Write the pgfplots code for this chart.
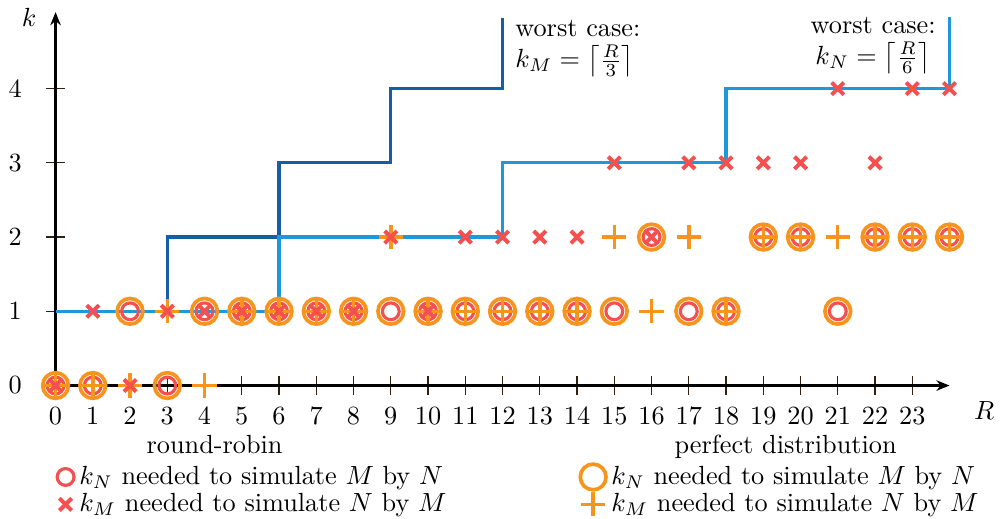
\documentclass[border=0pt]{standalone}
\usepackage{pgfplots}
\usepackage{pgfplotstable}
\pgfplotsset{compat=1.18}
\usetikzlibrary{arrows.meta}
\definecolor{rrred}{RGB}{245,80,80}
\definecolor{pdorange}{RGB}{247,148,30}
\definecolor{darkblue}{RGB}{22,94,164}
\definecolor{lightblue}{RGB}{30,152,216}
\pgfplotstableread{
R kNrr kMrr kNpd kMpd
0 0 0 0 0
1 0 1 0 0
2 1 0 1 0
3 0 1 0 1
4 1 1 1 0
5 1 1 1 1
6 1 1 1 1
7 1 1 1 1
8 1 1 1 1
9 1 2 1 2
10 1 1 1 1
11 1 2 1 1
12 1 2 1 1
13 1 2 1 1
14 1 2 1 1
15 1 3 1 2
16 2 2 2 1
17 1 3 1 2
18 1 3 1 1
19 2 3 2 2
20 2 3 2 2
21 1 4 1 2
22 2 3 2 2
23 2 4 2 2
24 2 4 2 2
}\datatable
\pgfplotsset{
  rrN/.style={draw=rrred, mark=o, mark size=3.2pt, line width=1.2pt},
  rrM/.style={draw=rrred, mark=x, mark size=3.3pt, line width=1.5pt},
  pdN/.style={draw=pdorange, mark=o, mark size=4.9pt, line width=1.4pt},
  pdM/.style={draw=pdorange, mark=+, mark size=4.6pt, line width=1.3pt},
}
\begin{document}
\begin{tikzpicture}
\begin{axis}[
  x=14.19pt, y=28.28pt,
  xmin=0, xmax=24, ymin=0, ymax=5.03,
  axis lines*=left,
  axis line style={line width=1pt, -{Stealth[length=5pt,width=4pt]}},
  xtick={0,...,23}, ytick={0,...,4},
  tick align=center, major tick length=7.2pt,
  tick style={line width=0.45pt, color=black!75!brown},
  xticklabel style={anchor=base, yshift=-11.3pt},
  yticklabel style={anchor=east, xshift=-5.7pt},
  clip=false,
  legend image code/.code={\draw[#1] plot coordinates {(0cm,0cm)};},
  legend columns=2,
  legend cell align=left,
  legend style={at={(axis cs:0.03,-1.04)}, anchor=north west, draw=none, fill=none,
    inner sep=0pt, row sep=0pt,
    nodes={inner sep=1pt},
    /tikz/every odd column/.append style={column sep=1pt},
    /tikz/every even column/.append style={column sep=50pt}},
]
\addlegendimage{rrN}
\addlegendentry{$k_N$ needed to simulate $M$ by $N$}
\addlegendimage{pdN}
\addlegendentry{$k_N$ needed to simulate $M$ by $N$}
\addlegendimage{rrM}
\addlegendentry{$k_M$ needed to simulate $N$ by $M$}
\addlegendimage{pdM}
\addlegendentry{$k_M$ needed to simulate $N$ by $M$}

\addplot[darkblue, line width=1.2pt, const plot, forget plot] coordinates {(0,1)(3,2)(6,3)(9,4)(12,4.95)};
\addplot[lightblue, line width=1.2pt, const plot, forget plot] coordinates {(0,1)(6,2)(12,3)(18,4)(24,4.97)};

\addplot[pdN, only marks, forget plot] table[x=R, y=kNpd] {\datatable};
\addplot[rrN, only marks, forget plot] table[x=R, y=kNrr] {\datatable};
\addplot[pdM, only marks, forget plot] table[x=R, y=kMpd] {\datatable};
\addplot[rrM, only marks, forget plot] table[x=R, y=kMrr] {\datatable};

\node[anchor=north west, align=left, inner sep=0pt] at (axis cs:12.33,4.93) {worst case:\\$k_M = \left\lceil\frac{R}{3}\right\rceil$};
\node[anchor=north, align=center, inner sep=0pt] at (axis cs:21.95,4.97) {worst case:\\$k_N = \left\lceil\frac{R}{6}\right\rceil$};
\node[anchor=base] at (axis cs:-0.71,4.83) {$k$};
\node[anchor=base] at (axis cs:24.93,-0.46) {$R$};
\node[anchor=base] at (axis cs:4.27,-0.914) {round-robin};
\node[anchor=base] at (axis cs:19.6,-0.914) {perfect distribution};
\path (axis cs:-1.161,-1.788) rectangle (axis cs:25.30,5.139);
\end{axis}
\end{tikzpicture}
\end{document}
